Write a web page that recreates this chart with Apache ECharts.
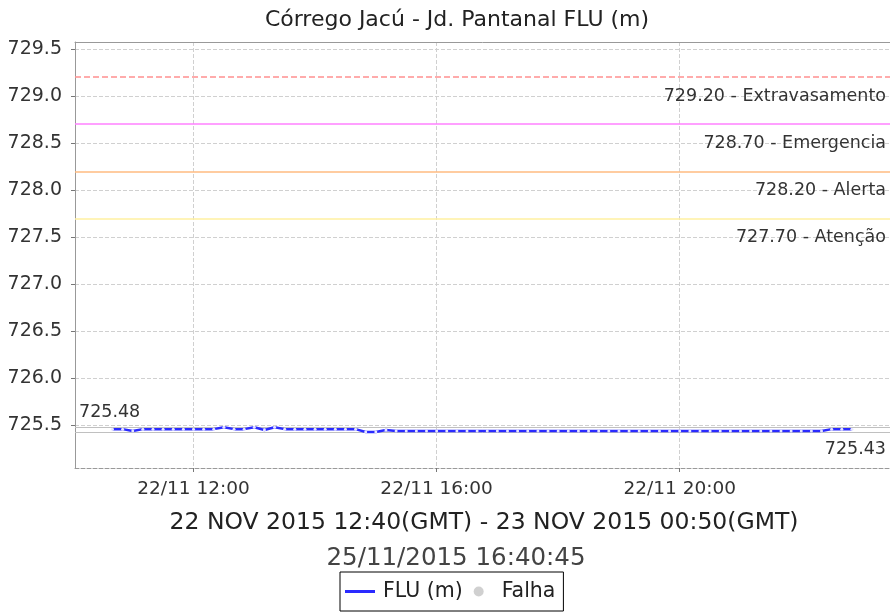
<!DOCTYPE html>
<html>
<head>
<meta charset="utf-8">
<script src="https://cdn.jsdelivr.net/npm/echarts@6/dist/echarts.min.js"></script>
<style>
  html, body { margin: 0; padding: 0; background: #fff; }
  #chart { width: 890px; height: 614px; }
</style>
</head>
<body>
<div id="chart"></div>
<script>
// leituras a cada 10 min (hora local), 22/11/2015
const times = [
  '10:40', '10:50', '11:00', '11:10', '11:20', '11:30', '11:40', '11:50',
  '12:00', '12:10', '12:20', '12:30', '12:40', '12:50', '13:00', '13:10',
  '13:20', '13:30', '13:40', '13:50', '14:00', '14:10', '14:20', '14:30',
  '14:40', '14:50', '15:00', '15:10', '15:20', '15:30', '15:40', '15:50',
  '16:00', '16:10', '16:20', '16:30', '16:40', '16:50', '17:00', '17:10',
  '17:20', '17:30', '17:40', '17:50', '18:00', '18:10', '18:20', '18:30',
  '18:40', '18:50', '19:00', '19:10', '19:20', '19:30', '19:40', '19:50',
  '20:00', '20:10', '20:20', '20:30', '20:40', '20:50', '21:00', '21:10',
  '21:20', '21:30', '21:40', '21:50', '22:00', '22:10', '22:20', '22:30',
  '22:40', '22:50'
]
const fluValues = [
  725.46, 725.46, 725.44, 725.46, 725.46, 725.46, 725.46, 725.46,
  725.46, 725.46, 725.46, 725.48, 725.46, 725.46, 725.48, 725.45,
  725.48, 725.46, 725.46, 725.46, 725.46, 725.46, 725.46, 725.46,
  725.46, 725.43, 725.43, 725.45, 725.44, 725.44, 725.44, 725.44,
  725.44, 725.44, 725.44, 725.44, 725.44, 725.44, 725.44, 725.44,
  725.44, 725.44, 725.44, 725.44, 725.44, 725.44, 725.44, 725.44,
  725.44, 725.44, 725.44, 725.44, 725.44, 725.44, 725.44, 725.44,
  725.44, 725.44, 725.44, 725.44, 725.44, 725.44, 725.44, 725.44,
  725.44, 725.44, 725.44, 725.44, 725.44, 725.44, 725.44, 725.46,
  725.46, 725.46
]

const yTicks = [725.5, 726.0, 726.5, 727.0, 727.5, 728.0, 728.5, 729.0, 729.5]
const xTicks = [12, 16, 20]
const xDay = '22/11'

const limitValues = [729.2, 728.7, 728.2, 727.7]
const limitNames = ['Extravasamento', 'Emergencia', 'Alerta', 'Atenção']
const limitColors = ['#ff9090', '#ff80ff', '#ffbb80', '#fff0a0']
const limitTypes = ['dashed', 'solid', 'solid', 'solid']

const maxValue = 725.48
const minValue = 725.43

const chartTitle = 'Córrego Jacú - Jd. Pantanal FLU (m)'
const periodText = '22 NOV 2015 12:40(GMT) - 23 NOV 2015 00:50(GMT)'
const stampText = '25/11/2015 16:40:45'

const font = 'DejaVu Sans'
const labelStyle = { color: '#333', fontFamily: font, fontSize: 17.5 }

function toHours(t) {
  const [h, m] = t.split(':').map(Number)
  return h + m / 60
}

const seriesData = times.map((t, i) => [toHours(t), fluValues[i]])

// cada cota de referência numa série própria, só com a markLine
const limitSeries = limitValues.map((v, i) => ({
  name: limitNames[i],
  type: 'line',
  data: [],
  silent: true,
  z: 3,
  markLine: {
    silent: true,
    symbol: ['none', 'none'],
    animation: false,
    lineStyle: { color: limitColors[i], type: limitTypes[i], width: 1.5, opacity: 1 },
    label: {
      ...labelStyle,
      position: 'insideEndBottom',
      distance: [4, 10],
      formatter: v.toFixed(2) + ' - ' + limitNames[i]
    },
    data: [{ yAxis: v }]
  }
}))

const chart = echarts.init(document.getElementById('chart'), null, { renderer: 'canvas' })

chart.setOption({
  animation: false,
  textStyle: { fontFamily: font },
  title: [
    {
      text: chartTitle,
      left: 452,
      top: 4,
      textAlign: 'center',
      textStyle: { fontFamily: font, fontSize: 22, fontWeight: 'normal', color: '#222' }
    },
    {
      text: periodText,
      left: 479,
      top: 506,
      textAlign: 'center',
      textStyle: { fontFamily: font, fontSize: 23.5, fontWeight: 'normal', color: '#222' }
    },
    {
      text: stampText,
      left: 451,
      top: 541,
      textAlign: 'center',
      textStyle: { fontFamily: font, fontSize: 24.5, fontWeight: 'normal', color: '#444' }
    }
  ],
  legend: {
    left: 340,
    top: 572,
    orient: 'horizontal',
    padding: [9, 8, 9, 5],
    itemGap: 11,
    itemWidth: 30,
    itemHeight: 10,
    borderColor: '#000',
    borderWidth: 1,
    borderRadius: 0,
    textStyle: { fontFamily: font, fontSize: 20.5, color: '#222', padding: [0, 0, 0, 3] },
    data: [
      { name: 'FLU (m)', icon: 'path://M0,0h30v3h-30z', itemStyle: { color: '#2a2aff' } },
      { name: 'Falha', icon: 'circle', itemStyle: { color: '#c4c4c4' } }
    ]
  },
  grid: {
    left: 75,
    top: 42,
    width: 819,
    bottom: 146,
    containLabel: false
  },
  xAxis: [
    {
      type: 'value',
      min: 10.05,
      max: 23.46,
      position: 'bottom',
      axisLine: { show: true, lineStyle: { color: '#999', type: 'dashed' } },
      axisTick: { show: true, length: 4, lineStyle: { color: '#777' }, customValues: xTicks },
      axisLabel: {
        customValues: xTicks,
        margin: 12,
        color: '#333',
        fontFamily: font,
        fontSize: 18.5,
        formatter: (v) => xDay + ' ' + String(v).padStart(2, '0') + ':00'
      },
      splitLine: { show: true, lineStyle: { color: '#d0d0d0', type: 'dashed' } }
    },
    {
      type: 'value',
      min: 10.05,
      max: 23.46,
      position: 'top',
      axisLine: { show: true, lineStyle: { color: '#999' } },
      axisTick: { show: false },
      axisLabel: { show: false },
      splitLine: { show: false }
    }
  ],
  yAxis: {
    type: 'value',
    min: 725.047,
    max: 729.574,
    axisLine: { show: true, lineStyle: { color: '#999' } },
    axisTick: { show: true, length: 4, lineStyle: { color: '#777' }, customValues: yTicks },
    axisLabel: {
      customValues: yTicks,
      margin: 13,
      color: '#333',
      fontFamily: font,
      fontSize: 19,
      formatter: (v) => v.toFixed(1)
    },
    splitLine: { show: true, lineStyle: { color: '#d0d0d0', type: 'dashed' } }
  },
  series: [
    {
      name: 'FLU (m)',
      type: 'line',
      data: seriesData,
      showAllSymbol: true,
      symbol: 'circle',
      symbolSize: 3,
      itemStyle: { color: '#e6e6ff' },
      lineStyle: { color: '#2a2aff', width: 2.5 },
      silent: true,
      z: 5,
      markLine: {
        silent: true,
        symbol: ['none', 'none'],
        animation: false,
        lineStyle: { color: '#c0c0c0', type: 'solid', width: 1, opacity: 1 },
        label: labelStyle,
        data: [
          { yAxis: maxValue, label: { position: 'insideStartTop', distance: [4, 6], formatter: maxValue.toFixed(2) } },
          { yAxis: minValue, label: { position: 'insideEndBottom', distance: [4, 8], formatter: minValue.toFixed(2) } }
        ]
      }
    },
    ...limitSeries,
    {
      name: 'Falha',
      type: 'scatter',
      data: [],
      itemStyle: { color: '#c4c4c4' }
    }
  ]
})
</script>
</body>
</html>
